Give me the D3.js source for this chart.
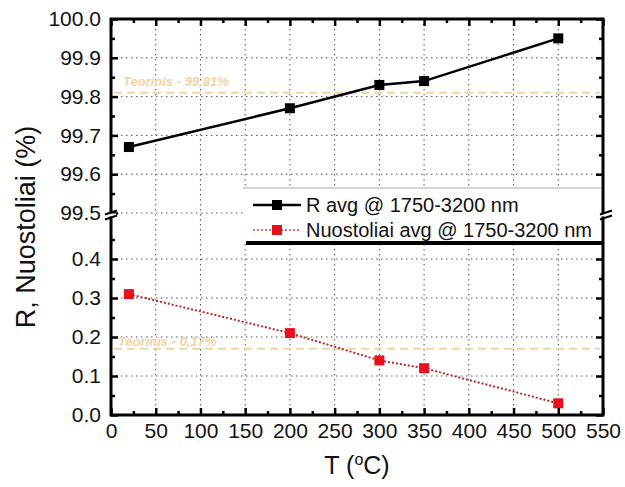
<!DOCTYPE html>
<html>
<head>
<meta charset="utf-8">
<script src="https://cdn.jsdelivr.net/npm/d3@7"></script>
<style>
  html, body { margin: 0; padding: 0; background: #fff; }
  svg { display: block; font-family: "Liberation Sans", Arial, sans-serif; }
</style>
</head>
<body>
<svg id="chart"></svg>
<script>
// data
const temps = [20, 200, 300, 350, 500];
const rAvg = [99.67, 99.77, 99.83, 99.84, 99.95];
const losses = [0.31, 0.21, 0.14, 0.12, 0.03];
const refR = 99.81;
const refLoss = 0.17;
const refLabels = ["Teorinis - 99,81%", "Teorinis - 0,17%"];
const legendLabels = ["R avg @ 1750-3200 nm", "Nuostoliai avg @ 1750-3200 nm"];
const xTicks = [0, 50, 100, 150, 200, 250, 300, 350, 400, 450, 500, 550];
const yTopTicks = [99.5, 99.6, 99.7, 99.8, 99.9, 100.0];
const yBotTicks = [0.0, 0.1, 0.2, 0.3, 0.4];

const width = 625, height = 487;
const pLeft = 111, pRight = 603, pTop = 19, pBottom = 415;

const svg = d3.select("#chart")
    .attr("width", width)
    .attr("height", height)
    .attr("viewBox", [0, 0, width, height]);

const x = d3.scaleLinear([0, 550], [pLeft, pRight]);
const yTop = d3.scaleLinear([99.5, 100], [213, pTop]);
const yBot = d3.scaleLinear([0, 0.5], [pBottom, 220]);

// grid
const grid = svg.append("g")
    .attr("stroke", "#555")
    .attr("stroke-width", 1)
    .attr("stroke-dasharray", "1.5,3.5");
grid.selectAll(".gx")
  .data(xTicks.filter(d => d > 0 && d < 550))
  .join("line")
    .attr("x1", d => x(d)).attr("x2", d => x(d))
    .attr("y1", pTop).attr("y2", pBottom);
grid.append("g").selectAll("line")
  .data(yTopTicks.filter(d => d < 100))
  .join("line")
    .attr("x1", pLeft).attr("x2", pRight)
    .attr("y1", d => yTop(d)).attr("y2", d => yTop(d));
grid.append("g").selectAll("line")
  .data(yBotTicks.filter(d => d > 0))
  .join("line")
    .attr("x1", pLeft).attr("x2", pRight)
    .attr("y1", d => yBot(d)).attr("y2", d => yBot(d));

// reference lines
const refColor = "#f2d3a2";
svg.append("line")
    .attr("x1", pLeft + 3).attr("x2", pRight - 3)
    .attr("y1", yTop(refR)).attr("y2", yTop(refR))
    .attr("stroke", refColor).attr("stroke-width", 2)
    .attr("stroke-dasharray", "8,5");
svg.append("line")
    .attr("x1", pLeft + 3).attr("x2", pRight - 3)
    .attr("y1", yBot(refLoss)).attr("y2", yBot(refLoss))
    .attr("stroke", refColor).attr("stroke-width", 2)
    .attr("stroke-dasharray", "8,5");
svg.append("text")
    .attr("x", 123).attr("y", yTop(refR) - 7)
    .attr("fill", refColor).attr("font-size", 13)
    .attr("font-style", "italic").attr("font-weight", "bold")
    .text(refLabels[0]);
svg.append("text")
    .attr("x", 118).attr("y", yBot(refLoss) - 3)
    .attr("fill", refColor).attr("font-size", 13)
    .attr("font-style", "italic").attr("font-weight", "bold")
    .text(refLabels[1]);

// series
svg.append("path")
    .attr("fill", "none")
    .attr("stroke", "#000")
    .attr("stroke-width", 2.5)
    .attr("d", d3.line().x((d, i) => x(temps[i])).y(d => yTop(d))(rAvg));
svg.append("g").selectAll("rect")
  .data(rAvg)
  .join("rect")
    .attr("x", (d, i) => x(temps[i]) - 5)
    .attr("y", d => yTop(d) - 5)
    .attr("width", 10).attr("height", 10)
    .attr("fill", "#000");

svg.append("path")
    .attr("fill", "none")
    .attr("stroke", "#b52a2a")
    .attr("stroke-width", 2)
    .attr("stroke-dasharray", "2,2")
    .attr("d", d3.line().x((d, i) => x(temps[i])).y(d => yBot(d))(losses));
svg.append("g").selectAll("rect")
  .data(losses)
  .join("rect")
    .attr("x", (d, i) => x(temps[i]) - 5)
    .attr("y", d => yBot(d) - 5)
    .attr("width", 10).attr("height", 10)
    .attr("fill", "#e8111b");

// legend
const lg = svg.append("g");
lg.append("rect")
    .attr("x", 243).attr("y", 188)
    .attr("width", pRight - 243).attr("height", 55)
    .attr("fill", "#fff");
lg.append("line")
    .attr("x1", 243).attr("x2", pRight - 2)
    .attr("y1", 188).attr("y2", 188)
    .attr("stroke", "#aaa").attr("stroke-width", 1);
lg.append("line")
    .attr("x1", 246).attr("x2", pRight)
    .attr("y1", 243).attr("y2", 243)
    .attr("stroke", "#000").attr("stroke-width", 4);
lg.append("line")
    .attr("x1", 253).attr("x2", 301).attr("y1", 205).attr("y2", 205)
    .attr("stroke", "#000").attr("stroke-width", 2.5);
lg.append("rect")
    .attr("x", 272).attr("y", 200).attr("width", 10).attr("height", 10)
    .attr("fill", "#000");
lg.append("line")
    .attr("x1", 253).attr("x2", 301).attr("y1", 230).attr("y2", 230)
    .attr("stroke", "#d04040").attr("stroke-width", 1.5)
    .attr("stroke-dasharray", "2,2");
lg.append("rect")
    .attr("x", 272).attr("y", 225).attr("width", 10).attr("height", 10)
    .attr("fill", "#e8111b");
lg.selectAll("text")
  .data(legendLabels)
  .join("text")
    .attr("x", 306)
    .attr("y", (d, i) => 212 + i * 25)
    .attr("font-size", 20)
    .attr("fill", "#111")
    .text(d => d);

// axes
const fmt1 = d3.format(".1f");
const styleAxis = g => {
  g.select(".domain").remove();
  g.selectAll(".tick line").attr("stroke", "#000").attr("stroke-width", 2.5);
  g.selectAll(".tick text").attr("fill", "#111").attr("font-size", 21)
      .attr("font-family", "Liberation Sans, Arial, sans-serif");
};
const minorStyle = g => {
  g.select(".domain").remove();
  g.selectAll(".tick line").attr("stroke", "#000").attr("stroke-width", 2.5);
};

// bottom
svg.append("g").attr("transform", `translate(0,${pBottom})`)
    .call(d3.axisBottom(x).tickValues(xTicks).tickSize(-7).tickPadding(8).tickFormat(d3.format("d")))
    .call(styleAxis);
svg.append("g").attr("transform", `translate(0,${pBottom})`)
    .call(d3.axisBottom(x).tickValues(d3.range(25, 550, 50)).tickSize(-4).tickFormat(""))
    .call(minorStyle);
// top
svg.append("g").attr("transform", `translate(0,${pTop})`)
    .call(d3.axisTop(x).tickValues(xTicks).tickSize(-7).tickFormat(""))
    .call(minorStyle);
svg.append("g").attr("transform", `translate(0,${pTop})`)
    .call(d3.axisTop(x).tickValues(d3.range(25, 550, 50)).tickSize(-4).tickFormat(""))
    .call(minorStyle);
// left
svg.append("g").attr("transform", `translate(${pLeft},0)`)
    .call(d3.axisLeft(yTop).tickValues(yTopTicks).tickSize(-7).tickPadding(10).tickFormat(fmt1))
    .call(styleAxis);
svg.append("g").attr("transform", `translate(${pLeft},0)`)
    .call(d3.axisLeft(yTop).tickValues([99.55, 99.65, 99.75, 99.85, 99.95]).tickSize(-4).tickFormat(""))
    .call(minorStyle);
svg.append("g").attr("transform", `translate(${pLeft},0)`)
    .call(d3.axisLeft(yBot).tickValues(yBotTicks).tickSize(-7).tickPadding(10).tickFormat(fmt1))
    .call(styleAxis);
svg.append("g").attr("transform", `translate(${pLeft},0)`)
    .call(d3.axisLeft(yBot).tickValues([0.05, 0.15, 0.25, 0.35, 0.45]).tickSize(-4).tickFormat(""))
    .call(minorStyle);
// right
svg.append("g").attr("transform", `translate(${pRight},0)`)
    .call(d3.axisRight(yTop).tickValues(yTopTicks.filter(d => d > 99.5)).tickSize(-7).tickFormat(""))
    .call(minorStyle);
svg.append("g").attr("transform", `translate(${pRight},0)`)
    .call(d3.axisRight(yTop).tickValues([99.85, 99.75, 99.65, 99.95]).tickSize(-4).tickFormat(""))
    .call(minorStyle);
svg.append("g").attr("transform", `translate(${pRight},0)`)
    .call(d3.axisRight(yBot).tickValues(yBotTicks).tickSize(-7).tickFormat(""))
    .call(minorStyle);
svg.append("g").attr("transform", `translate(${pRight},0)`)
    .call(d3.axisRight(yBot).tickValues([0.05, 0.15, 0.25, 0.35]).tickSize(-4).tickFormat(""))
    .call(minorStyle);

// frame
svg.append("path")
    .attr("stroke", "#000").attr("stroke-width", 3).attr("fill", "none")
    .attr("d", `M${pLeft},${pTop}H${pRight}V${pBottom}H${pLeft}Z`);

// axis break marks
const brk = svg.append("g");
[pLeft, pRight].forEach(bx => {
  const dx = bx === pLeft ? 0 : 3;
  brk.append("rect")
      .attr("x", bx - 5 + dx).attr("y", 213.5).attr("width", 10).attr("height", 3)
      .attr("fill", "#fff");
  [212.5, 217.5].forEach(by => {
    brk.append("line")
        .attr("x1", bx - 6 + dx).attr("y1", by + 2)
        .attr("x2", bx + 6 + dx).attr("y2", by - 2)
        .attr("stroke", "#000").attr("stroke-width", 2);
  });
});

// axis titles
svg.append("text")
    .attr("transform", `translate(35,${(pTop + pBottom) / 2 + 10}) rotate(-90)`)
    .attr("text-anchor", "middle")
    .attr("font-size", 27)
    .attr("fill", "#111")
    .text("R, Nuostoliai (%)");
const xt = svg.append("text")
    .attr("x", (pLeft + pRight) / 2)
    .attr("y", 474)
    .attr("text-anchor", "middle")
    .attr("font-size", 25)
    .attr("fill", "#111");
xt.append("tspan").text("T (");
xt.append("tspan").attr("font-size", 16).attr("dy", -9).text("o");
xt.append("tspan").attr("dy", 9).text("C)");
</script>
</body>
</html>
